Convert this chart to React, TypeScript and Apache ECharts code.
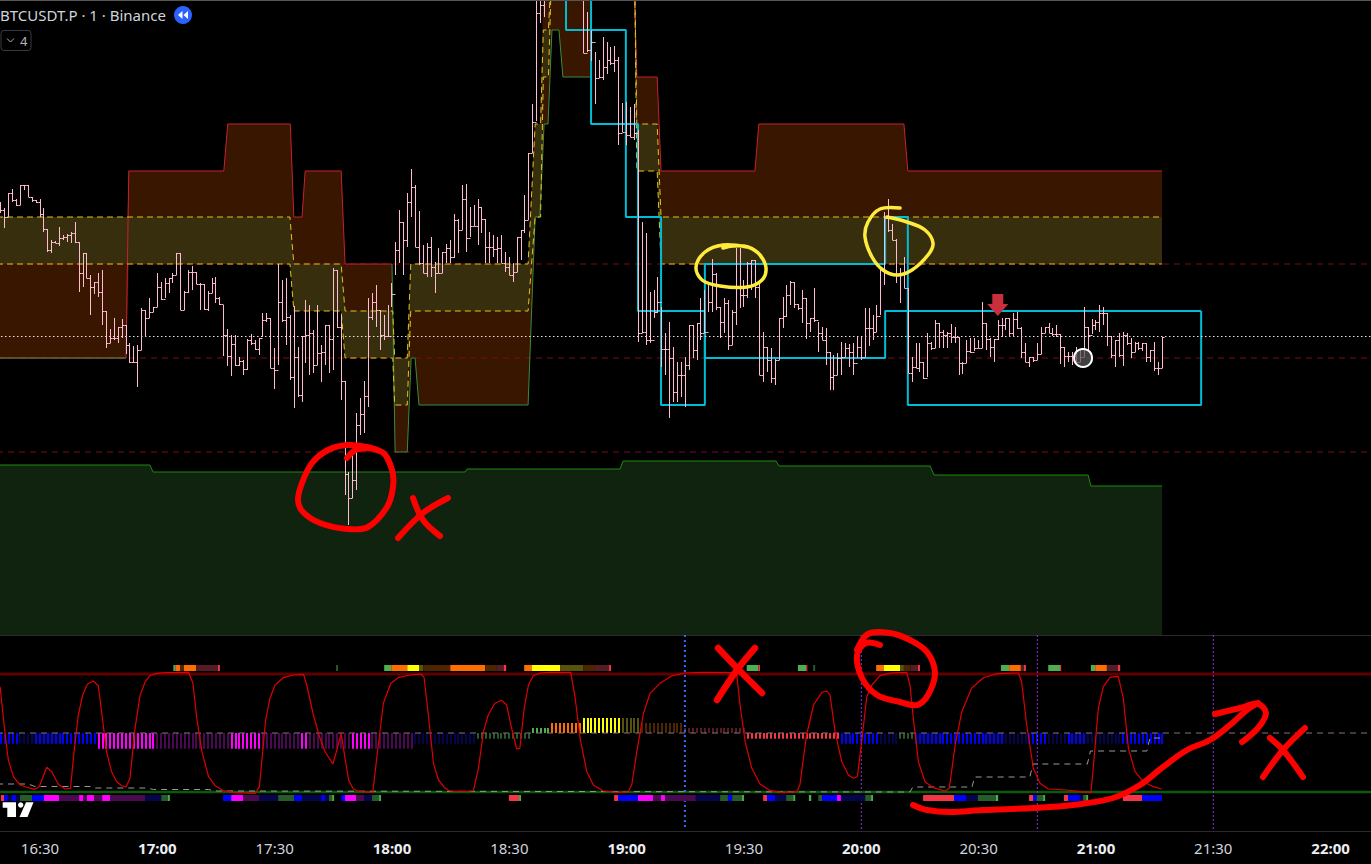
import React, { useEffect, useRef } from "react";
import * as echarts from "echarts";

// ---------- price pane: one bar per minute, starting at 16:20 (minute 980 of the day) ----------
const firstMinute = 980;
// [high, low, close]; the price unit is relative to the floor of the pane
const priceBars: [number, number, number][] = [
[433,422,425],[427,407,418],[442,418,442],[446,433,435],[436,429,430],[450,430,450],[450,445,450],[450,438,438],[438,433,435],[435,432,433],
[436,418,421],[427,403,406],[406,383,385],[395,382,393],[394,392,392],[408,389,397],[400,395,398],[401,393,400],[403,392,402],[413,392,393],
[393,343,362],[382,348,382],[382,357,357],[360,320,348],[353,341,353],[362,338,343],[365,310,324],[324,287,292],[306,292,297],[317,295,297],
[308,292,308],[316,297,310],[310,281,290],[292,272,273],[289,272,273],[290,248,285],[327,285,325],[325,298,317],[337,317,323],[328,323,328],
[362,328,348],[353,335,336],[357,337,352],[357,342,357],[362,352,360],[382,360,382],[382,325,325],[344,325,343],[365,342,363],[369,345,363],
[363,351,351],[352,325,351],[351,325,326],[344,324,342],[357,342,352],[358,332,337],[338,330,331],[330,279,300],[306,269,279],[300,259,291],
[300,269,270],[278,269,274],[275,260,266],[296,265,295],[301,290,292],[295,285,286],[297,280,297],[322,298,315],[322,313,317],[317,267,267],
[287,246,265],[371,270,333],[355,313,315],[357,290,318],[320,255,258],[329,227,278],[288,238,240],[299,233,299],[335,272,300],[330,260,302],
[305,262,270],[330,270,282],[290,253,283],[310,270,310],[310,262,296],[367,265,365],[365,307,308],[320,235,254],[254,140,161],[163,110,137],
[183,137,155],[222,145,210],[237,200,221],[254,202,239],[337,228,318],[342,315,333],[350,308,325],[325,285,300],[320,295,299],[330,298,299],
[352,328,341],[393,360,385],[425,372,413],[413,360,395],[442,388,433],[466,418,448],[450,388,388],[424,370,372],[390,362,362],[392,358,388],
[398,358,368],[373,342,362],[387,362,362],[383,362,383],[391,372,387],[395,372,378],[421,377,415],[416,382,405],[450,405,436],[451,383,397],
[428,398,409],[430,409,409],[436,390,428],[428,402,416],[416,372,388],[403,372,388],[400,378,386],[398,372,387],[400,372,372],[383,363,368],
[378,360,360],[372,353,363],[398,363,398],[405,375,405],[440,402,415],[482,415,482],[531,482,513],[645,514,622],[640,612,630],[645,618,637],
[665,640,655],[672,650,660],[680,655,668],[684,660,672],[686,665,678],[690,668,675],[684,660,670],[680,650,660],[672,640,645],[640,582,582],
[623,583,585],[605,574,593],[583,531,557],[575,557,558],[598,555,568],[593,561,575],[588,570,572],[589,563,575],[578,490,502],[532,503,503],
[533,490,500],[528,498,498],[531,495,502],[505,293,302],[413,302,303],[402,290,295],[343,292,295],[345,317,323],[358,322,333],[328,268,286],
[302,260,286],[313,217,277],[288,233,243],[273,233,260],[273,238,260],[278,228,270],[310,265,310],[310,277,285],[312,275,312],[337,295,302],
[345,302,303],[352,323,333],[376,323,361],[362,325,328],[328,297,313],[337,302,332],[335,285,290],[325,290,323],[387,310,347],[387,327,340],
[355,328,340],[373,337,372],[375,345,375],[375,337,348],[352,260,260],[303,253,288],[288,263,275],[287,252,257],[276,250,275],[317,275,317],
[338,307,319],[350,318,340],[354,330,353],[353,327,331],[331,325,327],[345,312,337],[337,296,312],[317,303,317],[347,313,315],[313,283,302],
[308,295,295],[307,270,283],[283,245,258],[280,245,260],[282,260,277],[293,260,278],[292,278,287],[291,268,283],[292,260,272],[298,277,288],
[298,275,278],[327,278,307],[327,289,307],[320,295,303],[330,303,319],[367,320,365],[423,350,417],[436,403,405],[411,395,395],[396,352,360],
[367,332,362],[378,347,347],[347,262,262],[278,253,268],[292,267,267],[292,263,273],[273,256,257],[302,258,292],[293,285,287],[315,287,312],
[312,287,303],[305,287,300],[303,287,302],[311,292,298],[308,292,298],[298,260,272],[273,261,272],[295,272,284],[297,282,283],[297,284,287],
[295,287,287],[333,287,312],[312,285,296],[297,278,288],[296,273,296],[315,295,310],[317,298,310],[317,305,317],[317,298,302],[322,298,316],
[323,306,307],[308,277,283],[292,273,273],[278,268,278],[278,273,275],[292,275,281],[308,281,302],[308,302,308],[312,302,302],[307,299,301],
[310,298,301],[301,271,288],[288,268,279],[283,273,279],[283,270,279],[288,272,273],[285,273,278],[328,278,308],[308,285,300],[316,301,310],
[315,305,313],[330,303,322],[328,310,322],[322,289,299],[299,277,280],[295,268,295],[302,278,280],[303,269,300],[302,290,292],[297,277,283],
[293,283,292],[293,285,287],[292,284,292],[292,273,278],[285,273,285],[293,264,267],[273,260,267],[298,267,298],
];

// bands: [minute, upper, lower]
const brownBandA: [number, number, number][] = [
[979,371,277],[1012,371,277],[1012.7,464,371],[1037,464,371],[1038,511,371],[1054,511,371],[1054.9,418,324],[1057,418,324],[1057.8,464,324],
[1067,464,324],[1068,371,277],[1080,371,277],[1080.1,277,277],[1080.8,277,183],[1083.9,277,183],[1084.9,371,277],[1085.9,371,277],[1086.9,371,230],
[1114.8,371,230],[1116.6,511,418],[1117.8,511,418],[1118.9,675,511],[1119.9,675,511],[1120.9,675,605],[1122.7,675,605],[1123.7,675,558],[1131,675,558],[1131.1,675,675],
];
const brownBandB: [number, number, number][] = [
[1142,675,675],[1142.6,558,511],[1147.8,558,511],[1148.8,464,371],[1172.8,464,371],[1173.8,511,371],[1210.9,511,371],[1211.9,464,371],[1276.9,464,371],
];
const yellowBand: [number, number, number][] = [
[979,418,371],[1053.9,418,371],[1054.9,371,324],[1067,371,324],[1068,324,277],[1080.2,324,277],[1080.7,277,230],[1083.9,277,230],[1084.8,371,324],
[1114.8,371,324],[1116.6,511,418],[1118,511,418],[1118.7,605,558],[1120,605,558],[1120.9,675,675],[1142,675,675],[1142.6,511,464],[1147.8,511,464],[1148.8,418,371],[1276.9,418,371],
];
const redEdgeA = [[979,277],[1012,277],[1012.7,464],[1037,464],[1038,511],[1054,511],[1054.9,418],[1057,418],[1057.8,464],[1067,464],[1068,371],[1080,371]];
const redEdgeB = [[1131,640],[1131,605]];
const redEdgeC = [[1142,640],[1142.6,558],[1147.8,558],[1148.8,464],[1172.8,464],[1173.8,511],[1210.9,511],[1211.9,464],[1276.9,464]];
const greenEdgeA = [[979,277],[1012,277]];
const greenEdgeB = [[1080,371],[1080.8,183],[1083.9,183],[1084.9,277],[1085.9,277],[1086.9,230],[1114.8,230],[1116.6,418],[1117.8,418],[1118.9,511],[1119.9,511],[1120.9,605],[1122.7,605],[1123.7,558],[1130.6,558]];
const supportFloor = [[979,170],[1018.1,170],[1018.9,163],[1098.7,163],[1099.2,166],[1138.3,166],[1139.1,174],[1178.2,174],[1179,169],[1217.6,169],[1218.6,160],[1258,160],[1258.7,149],[1276.9,149]];
const cyanPathA = [[1124.5,680],[1124.5,605],[1139.8,605],[1139.8,418],[1148.8,418],[1148.8,230],[1160,230],[1160,371],[1206.1,371],[1206.1,418],[1211.9,418],[1211.9,230],[1286.9,230],[1286.9,324]];
const cyanPathB = [[1130.9,680],[1130.9,511],[1142.9,511],[1142.9,324],[1160,324],[1160,277],[1206.1,277],[1206.1,324],[1286.9,324]];
const dashedLevels = [371, 277, 183];
const lastPriceLevel = 298.5;
const alertMarks = [[1234.9, 330]];
const replayMarks = [[1256.7, 277]];

// ---------- oscillator pane ----------
const oscUpper = 118;
const oscLower = 0;
const oscMiddle = 59;
const oscCurve = [
[979.8,105.3],[980.2,90.3],[981.1,57],[981.9,32],[983.2,15.3],[984.9,7],[987,4.3],[988.7,2.7],[989.8,5.3],[991.7,24.7],[993,20.3],[994.7,7.7],[996.4,3],[997.8,3.7],
[998.7,40.3],[999.8,77],[1000.9,97],[1002.1,107.7],[1003.6,111],[1004.9,106.3],[1005.8,78.7],[1007,40.3],[1008.3,20.3],[1009.6,10.3],[1010.9,6.3],[1012,5],[1013,13.7],
[1014.3,63.7],[1015.6,97],[1016.9,110.3],[1018.1,116.3],[1019.8,118.7],[1022.4,119.3],[1028,119.7],[1029.1,108.7],[1030.1,73.7],[1031.4,40.3],[1033.1,15.3],[1034.8,6.3],
[1036.9,1.3],[1039.4,-0.3],[1045,-1.3],[1046.1,5.3],[1047.7,72],[1048.8,93.7],[1050.1,107],[1052.2,114.3],[1054.8,117],[1057.4,117.7],[1058.2,107],[1059.9,77],[1061.6,53.7],
[1062.9,40.3],[1064.9,28],[1065.9,42],[1067,58.7],[1068,33.7],[1068.9,12],[1070.1,3],[1071.8,0.3],[1075.1,-0.3],[1076.1,33.7],[1077.8,88.7],[1079.7,108.7],[1081.6,114.3],
[1084.6,117],[1087.4,118],[1088.2,114.7],[1089.3,77],[1090.6,28.7],[1091.9,12],[1093.6,3.7],[1094.8,1],[1097.4,0.3],[1100.8,1],[1102.1,23.7],[1103.4,60.3],[1104.6,77],
[1106.3,88.7],[1108,91.7],[1109.3,87],[1110.6,63.7],[1111.9,43],[1112.7,43.7],[1113.8,83.7],[1114.9,107],[1116.1,116.3],[1117.9,119],[1120.4,119.7],[1125.7,119.7],[1126.8,95.3],
[1128.1,53.7],[1129.8,20.3],[1131.5,7],[1134,1],[1137.5,-0.3],[1140.4,0.3],[1141.3,7],[1142.6,40.3],[1144.3,78.7],[1146,98.7],[1148.5,108.7],[1151.5,116],[1154.5,119],[1159.6,119.7],
[1168.1,119.3],[1169,87],[1170.3,50.3],[1172,23.7],[1174.1,8],[1176.7,1.3],[1180.1,-0.7],[1183.5,0.3],[1184.3,7],[1186,57],[1187.8,87],[1189.9,99.7],[1191.2,101],[1192,97],
[1193.3,60.3],[1195,30.3],[1196.7,17],[1198,13.7],[1199,15.3],[1200.1,50.3],[1201.4,95.3],[1202.7,107],[1204.8,116.3],[1207.4,119],[1211.6,119.7],[1212.45,107],[1213.3,73.7],
[1214.6,30.3],[1216.3,10.3],[1218.4,4.3],[1221.4,1],[1222.5,3.7],[1224,47],[1225.7,80.3],[1228.2,103.7],[1231.2,114.3],[1234.6,118.3],[1240.2,119],[1241,110.3],[1242.3,67],
[1244,23.7],[1245.7,8.7],[1247.8,3],[1252.5,2],[1255.9,0.3],[1258.7,-0.7],[1259.3,23.7],[1260.6,83.7],[1261.9,105.3],[1263.6,114.7],[1265.7,115.7],[1267,93.7],[1268.3,43.7],
[1270,20.3],[1272.1,10.3],[1274.7,5.3],[1276.8,3],
];
const stepTrail = [
[979,8],[987,8],[988.7,5.5],[1002.8,5.5],[1004,4],[1017.4,4],[1019,2.5],[1033,2.5],[1035.3,1],[1210,0],[1212.4,0],[1213.2,5],[1228.3,5],[1229,15],[1243.1,15],[1243.9,28],[1257.8,28],[1258.6,41],[1273,41],[1273.8,54],[1276.9,54],
];

const BLUE = "#0000ff", NAVY = "#05054d", MAGENTA = "#ff00ff", PURPLE = "#4a0a4f", FOREST = "#255c2a", GREEN = "#4caf50";
const ORANGE = "#ff6d00", YELLOW = "#ffff00", OLIVE = "#55540a", BROWN = "#4d2500", MAROON = "#561c24", PINK = "#f23645";

// histogram: [first minute, last minute, height around the middle, colour]
const histRuns: [number, number, number, string][] = [
[980,984,-10.7,BLUE],[985,988,-10.7,NAVY],[989,1004,-10.7,BLUE],[1005,1019,-15.7,MAGENTA],[1020,1038,-15.7,PURPLE],[1039,1046,-15.7,MAGENTA],[1047,1056,-15.7,PURPLE],
[1057,1058,-15.7,MAGENTA],[1059,1069,-15.7,PURPLE],[1070,1074,-15.7,MAGENTA],[1075,1085,-15.7,PURPLE],[1086,1101,-10.7,NAVY],[1102,1115,-5.7,FOREST],[1116,1120,5,GREEN],
[1121,1128,10,ORANGE],[1129,1138,15,YELLOW],[1139,1143,15,OLIVE],[1144,1154,10,BROWN],[1155,1170,5,MAROON],[1171,1194,-5.7,PINK],[1195,1204,-10.7,BLUE],[1205,1209,-10.7,NAVY],
[1210,1213,-5.7,FOREST],[1214,1236,-10.7,BLUE],[1237,1242,-10.7,NAVY],[1243,1247,-10.7,BLUE],[1248,1252,-10.7,NAVY],[1253,1257,-10.7,BLUE],[1258,1266,-10.7,NAVY],[1267,1277,-10.7,BLUE],
];
// status strips: [from minute, to minute, colour]
const upperStrip: [number, number, string][] = [
[1024.1,1024.7,GREEN],[1024.7,1025.8,ORANGE],[1025.8,1026.8,BROWN],[1026.8,1029.9,ORANGE],[1029.9,1035.5,MAROON],[1035.5,1036,PINK],[1065.7,1066.2,FOREST],
[1078,1079.8,GREEN],[1079.8,1083.9,ORANGE],[1083.9,1086.9,YELLOW],[1086.9,1088,OLIVE],[1088,1094.9,BROWN],[1094.9,1103.8,ORANGE],[1103.8,1106.8,BROWN],[1106.8,1108.6,MAROON],[1108.6,1109.2,PINK],
[1113.8,1115.8,ORANGE],[1115.8,1123,YELLOW],[1123,1128.9,OLIVE],[1128.9,1131.9,BROWN],[1131.9,1135.5,MAROON],[1135.5,1136,PINK],[1170.7,1173.7,GREEN],[1173.7,1174.1,PINK],
[1183.8,1185.9,GREEN],[1185.9,1186.2,PINK],[1187.7,1188.2,FOREST],[1203.8,1205.8,ORANGE],[1205.8,1209.9,YELLOW],[1209.9,1210.9,OLIVE],[1210.9,1212.6,BROWN],[1212.6,1214.5,MAROON],[1214.5,1215,PINK],
[1235.7,1237.8,GREEN],[1237.8,1240.8,ORANGE],[1240.8,1241.6,MAROON],[1241.6,1242.1,PINK],[1247.8,1250.8,GREEN],[1250.8,1251.1,PINK],[1258.7,1259.8,GREEN],[1259.8,1262.8,ORANGE],[1262.8,1265.6,MAROON],[1265.6,1266.2,PINK],
];
const lowerStrip: [number, number, string][] = [
[980,980.8,PINK],[980.8,981.8,BLUE],[981.8,982.8,NAVY],[982.8,983.9,BLUE],[983.9,984.9,NAVY],[984.9,988,FOREST],[988,991,BLUE],[991,994.9,MAGENTA],[994.9,1000,PURPLE],[1000,1001,MAGENTA],
[1001,1002,PURPLE],[1002,1003.8,MAGENTA],[1003.8,1005.9,PURPLE],[1005.9,1007.9,MAGENTA],[1007.9,1016.9,PURPLE],[1016.9,1021,NAVY],[1021,1022.7,FOREST],[1022.7,1023.2,GREEN],
[1036.8,1038.9,BLUE],[1038.9,1041.9,MAGENTA],[1041.9,1046,PURPLE],[1046,1050.9,NAVY],[1050.9,1055,FOREST],[1055,1057,BLUE],[1057,1061.9,NAVY],[1061.9,1062.9,BLUE],[1062.9,1063.9,NAVY],[1063.9,1064.7,FOREST],[1064.7,1065.2,GREEN],
[1067,1068,BLUE],[1068,1070.8,MAGENTA],[1070.8,1072.9,PURPLE],[1072.9,1074.9,NAVY],[1074.9,1076.7,FOREST],[1076.7,1077.2,GREEN],[1109.9,1112.5,PINK],[1112.5,1113,GREEN],
[1136.8,1137.8,PINK],[1137.8,1142.9,BLUE],[1142.9,1146.8,MAGENTA],[1146.8,1148.8,PURPLE],[1148.8,1149.8,MAGENTA],[1149.8,1157.7,PURPLE],[1157.7,1163.9,NAVY],[1163.9,1165.9,FOREST],[1165.9,1167,BLUE],[1167,1169.5,FOREST],[1169.5,1170,GREEN],
[1174.9,1175.9,PINK],[1175.9,1178,BLUE],[1178,1180.8,NAVY],[1180.8,1182.6,FOREST],[1182.6,1183.1,GREEN],[1186.6,1187.2,GREEN],[1189,1190,FOREST],[1190,1193.8,BLUE],[1193.8,1194.8,MAGENTA],[1194.8,1201,NAVY],[1201,1202.5,FOREST],[1202.5,1203,GREEN],
[1215.8,1223.7,PINK],[1223.7,1226.8,BLUE],[1226.8,1229.8,NAVY],[1229.8,1234.4,FOREST],[1234.4,1235,GREEN],[1242.9,1243.9,PINK],[1243.9,1244.9,BLUE],[1244.9,1246.5,FOREST],[1246.5,1247,GREEN],
[1251.8,1252.9,PINK],[1252.9,1255.9,BLUE],[1255.9,1256.7,NAVY],[1256.7,1257.5,FOREST],[1257.5,1258,GREEN],[1266.9,1271.8,PINK],[1271.8,1276.9,BLUE],
];
const upperStripLane = [121, 127];
const lowerStripLane = [-9, -3];
const blueSession = [1154.9];
const purpleSessions = [1200, 1245, 1290];
const timeTicks = [990, 1020, 1050, 1080, 1110, 1140, 1170, 1200, 1230, 1260, 1290, 1320];

// ---------- freehand marks drawn on the screenshot ----------
const redLoopA = [[347,458],[358,449],[382,452],[392,470],[393,487],[387,507],[368,527],[347,529],[320,523],[303,512],[298,500],[302,483],[312,463],[328,450],[347,445],[367,447],[382,452]];
const redCrossA = [[[413,498],[423,520],[440,536]],[[448,498],[423,513],[398,538]]];
const yellowLoopA = [[747,247],[723,245],[705,252],[696,267],[702,280],[720,286],[747,287],[762,280],[766,268],[760,255],[748,247],[733,246],[723,248]];
const yellowLoopB = [[900,208],[880,209],[868,222],[865,237],[872,257],[883,270],[897,275],[912,270],[928,255],[933,243],[925,230],[907,222],[887,217]];
const redCrossB = [[[718,648],[737,668],[762,693]],[[755,648],[737,670],[717,700]]];
const redLoopB = [[880,645],[866,643],[857,655],[862,678],[877,695],[900,702],[917,705],[928,695],[935,673],[927,652],[910,640],[890,633],[868,634],[857,650]];
const redArrow = [[913,805],[927,810],[950,812],[983,810],[1033,808],[1073,805],[1113,798],[1140,785],[1163,767],[1187,750],[1210,740],[1230,725],[1247,710],[1258,703]];
const redArrowHead = [[1215,714],[1240,708],[1258,704],[1266,713],[1258,728],[1242,742]];
const redCrossC = [[[1270,738],[1283,750],[1303,777]],[[1305,728],[1283,750],[1263,777]]];

const AXIS_MIN = 979.77;
const AXIS_MAX = 1330.33;

function lineSeries(data: number[][], pane: number, color: string, width: number, z: number, type: any = "solid", extra: any = {}) {
  return {
    type: "line", xAxisIndex: pane, yAxisIndex: pane, data, symbol: "none", silent: true, z, clip: true,
    lineStyle: { color, width, type }, ...extra,
  };
}

function bandSeries(band: [number, number, number][], fill: string, z: number) {
  return {
    type: "custom", xAxisIndex: 0, yAxisIndex: 0, z, silent: true, clip: true,
    data: [[band[0][0], band[0][1]]], encode: { x: 0, y: 1 },
    renderItem: (_p: any, api: any) => ({
      type: "polygon",
      shape: {
        points: [
          ...band.map((p) => api.coord([p[0], p[1]])),
          ...[...band].reverse().map((p) => api.coord([p[0], p[2]])),
        ],
      },
      style: { fill },
    }),
  };
}

function stripSeries(runs: [number, number, string][], lane: number[]) {
  return {
    type: "custom", xAxisIndex: 1, yAxisIndex: 1, z: 5, silent: true,
    data: runs.map((r) => [r[0], lane[0], r[1], lane[1]]), encode: { x: [0, 2], y: [1, 3] },
    renderItem: (p: any, api: any) => {
      const r = runs[p.dataIndex];
      const a = api.coord([r[0], lane[1]]);
      const b = api.coord([r[1], lane[0]]);
      return { type: "rect", shape: { x: a[0], y: a[1], width: b[0] - a[0], height: b[1] - a[1] }, style: { fill: r[2] } };
    },
  };
}

function stroke(points: number[][], color: string, lineWidth: number) {
  return {
    type: "polyline", z: 200, silent: true,
    shape: { points, smooth: 0.35 },
    style: { stroke: color, lineWidth, lineCap: "round", lineJoin: "round", fill: null },
  };
}

export default function App() {
  const ref = useRef<HTMLDivElement>(null);
  useEffect(() => {
    document.body.style.margin = "0";
    document.body.style.background = "#000";
    const chart = echarts.init(ref.current!, undefined, { renderer: "svg" });

    const hist: { m: number; h: number; c: string }[] = [];
    histRuns.forEach(([from, to, h, c]) => {
      for (let m = from; m <= to; m++) hist.push({ m, h, c });
    });

    const ohlc = priceBars.map((b, i) => [
      firstMinute + i,
      i === 0 ? b[2] : priceBars[i - 1][2],
      b[2], b[1], b[0],
    ]);

    const sessionLine = (m: number, color: string, width: number, dash: number[]) =>
      lineSeries([[m, 157], [m, -37]], 1, color, width, 4, dash);

    chart.setOption({
      animation: false,
      backgroundColor: "#000000",
      tooltip: { show: false },
      grid: [
        { left: 0, top: 0, width: 1371, height: 635 },
        { left: 0, top: 635, width: 1371, height: 196 },
      ],
      xAxis: [
        {
          type: "value", gridIndex: 0, min: AXIS_MIN, max: AXIS_MAX, splitLine: { show: false },
          axisLabel: { show: false }, axisTick: { show: false },
          axisLine: { show: true, onZero: false, lineStyle: { color: "#2a2a2e", width: 1 } },
        },
        {
          type: "value", gridIndex: 1, min: AXIS_MIN, max: AXIS_MAX, splitLine: { show: false },
          axisTick: { show: false },
          axisLine: { show: true, onZero: false, lineStyle: { color: "#2a2a2e", width: 1 } },
          axisLabel: {
            customValues: timeTicks,
            margin: 9,
            formatter: (v: number) => {
              const hh = Math.floor(v / 60);
              const mm = v % 60;
              const s = `${hh}:${mm === 0 ? "00" : mm}`;
              return mm === 0 ? `{b|${s}}` : `{n|${s}}`;
            },
            rich: {
              b: { fontFamily: "Noto Sans", fontSize: 15, fontWeight: "bold", color: "#eceef3" },
              n: { fontFamily: "Noto Sans", fontSize: 15, color: "#d1d4dc" },
            },
          },
        },
      ],
      yAxis: [
        { type: "value", gridIndex: 0, min: 0, max: 635, show: false, splitLine: { show: false } },
        { type: "value", gridIndex: 1, min: -39, max: 157, show: false, splitLine: { show: false } },
      ],
      graphic: [
        { type: "line", z: 150, silent: true, shape: { x1: 0, y1: 0.5, x2: 1371, y2: 0.5 }, style: { stroke: "#555555", lineWidth: 1 } },
        { type: "text", z: 150, silent: true, x: 0, y: 15, style: { text: "BTCUSDT.P · 1 · Binance", fill: "#d1d4dc", fontFamily: "Noto Sans", fontSize: 15, verticalAlign: "middle" } },
        { type: "circle", z: 150, silent: true, shape: { cx: 183, cy: 15, r: 9 }, style: { fill: "#2962ff" } },
        { type: "polygon", z: 151, silent: true, shape: { points: [[182.5, 11], [178, 15], [182.5, 19]] }, style: { fill: "#ffffff" } },
        { type: "polygon", z: 151, silent: true, shape: { points: [[188, 11], [183.5, 15], [188, 19]] }, style: { fill: "#ffffff" } },
        { type: "rect", z: 150, silent: true, shape: { x: 1, y: 30.5, width: 30, height: 20, r: 3 }, style: { fill: "#000", stroke: "#363a45", lineWidth: 1 } },
        { type: "polyline", z: 151, silent: true, shape: { points: [[7, 38.5], [10.5, 42], [14, 38.5]] }, style: { stroke: "#b2b5be", lineWidth: 1, fill: null } },
        { type: "text", z: 151, silent: true, x: 20, y: 41, style: { text: "4", fill: "#b2b5be", fontFamily: "Noto Sans", fontSize: 13, verticalAlign: "middle" } },
        { type: "polygon", z: 150, silent: true, shape: { points: [[2.7, 802.3], [16, 802.3], [16, 817], [7.3, 817], [7.3, 807.7], [2.7, 807.7]] }, style: { fill: "#ffffff" } },
        { type: "circle", z: 150, silent: true, shape: { cx: 20.7, cy: 805, r: 2.7 }, style: { fill: "#ffffff" } },
        { type: "polygon", z: 150, silent: true, shape: { points: [[26, 802.3], [33.5, 802.3], [27.5, 817], [19.5, 817]] }, style: { fill: "#ffffff" } },
        stroke(redLoopA, "#ff0000", 6),
        ...redCrossA.map((p) => stroke(p, "#ff0000", 6)),
        stroke(yellowLoopA, "#ffeb3b", 3.5),
        stroke(yellowLoopB, "#ffeb3b", 3.5),
        ...redCrossB.map((p) => stroke(p, "#ff0000", 6.5)),
        stroke(redLoopB, "#ff0000", 6),
        stroke(redArrow, "#ff0000", 6),
        stroke(redArrowHead, "#ff0000", 6),
        ...redCrossC.map((p) => stroke(p, "#ff0000", 6)),
      ],
      series: [
        lineSeries(supportFloor, 0, "#1e8a0e", 1, 1, "solid", { areaStyle: { color: "#0f230e", opacity: 1, origin: "start" } }),
        bandSeries(brownBandA, "#381600", 1),
        bandSeries(brownBandB, "#381600", 1),
        bandSeries(yellowBand, "#372e0e", 2),
        ...dashedLevels.map((v) => lineSeries([[979, v], [1331, v]], 0, "#7a0f0f", 1, 3, [6, 5])),
        lineSeries(redEdgeA, 0, "#c8202f", 1, 3),
        lineSeries(redEdgeB, 0, "#c8202f", 1, 3),
        lineSeries(redEdgeC, 0, "#c8202f", 1, 3),
        lineSeries(greenEdgeA, 0, "#3d8b3d", 1, 3),
        lineSeries(greenEdgeB, 0, "#3d8b3d", 1, 3),
        lineSeries(yellowBand.map((p) => [p[0], p[1]]), 0, "#e2c41f", 1, 4, [6, 4]),
        lineSeries(yellowBand.map((p) => [p[0], p[2]]), 0, "#e2c41f", 1, 4, [6, 4]),
        lineSeries(cyanPathA, 0, "#00bcd4", 2, 5),
        lineSeries(cyanPathB, 0, "#00bcd4", 2, 5),
        lineSeries([[979, lastPriceLevel], [1331, lastPriceLevel]], 0, "#f0dfe4", 1, 6, [1.5, 2.5]),
        {
          type: "custom", xAxisIndex: 0, yAxisIndex: 0, z: 7, silent: true, clip: true,
          data: ohlc, encode: { x: 0, y: [1, 2, 3, 4] },
          renderItem: (_p: any, api: any) => {
            const m = api.value(0);
            const x = Math.floor(api.coord([m, 0])[0]) + 0.5;
            const yO = Math.round(api.coord([m, api.value(1)])[1]) + 0.5;
            const yC = Math.round(api.coord([m, api.value(2)])[1]) + 0.5;
            const yL = api.coord([m, api.value(3)])[1];
            const yH = api.coord([m, api.value(4)])[1];
            const style = { stroke: "#ffbcd0", lineWidth: 1, fill: null };
            return {
              type: "group",
              children: [
                { type: "line", shape: { x1: x, y1: yH, x2: x, y2: yL }, style },
                { type: "line", shape: { x1: x - 2, y1: yO, x2: x, y2: yO }, style },
                { type: "line", shape: { x1: x, y1: yC, x2: x + 2, y2: yC }, style },
              ],
            };
          },
        },
        {
          type: "scatter", xAxisIndex: 0, yAxisIndex: 0, z: 8, silent: true, data: alertMarks,
          symbol: "path://M5,0L16,0L16,10L21,10L10.5,22L0,10L5,10Z", symbolSize: [21, 22], symbolKeepAspect: false,
          itemStyle: { color: "#c9303e", opacity: 1 },
        },
        {
          type: "scatter", xAxisIndex: 0, yAxisIndex: 0, z: 8, silent: true, data: replayMarks, symbol: "circle", symbolSize: 18,
          itemStyle: { color: "rgba(85,85,85,0.75)", borderColor: "#ffffff", borderWidth: 2, opacity: 1 },
        },
        // oscillator pane
        lineSeries([[979, oscUpper], [1331, oscUpper]], 1, "#5c0000", 3, 2),
        lineSeries([[979, oscLower], [1331, oscLower]], 1, "#0b5a0b", 2.5, 2),
        lineSeries([[979, oscMiddle], [1331, oscMiddle]], 1, "#85707a", 1, 3, [6, 5]),
        {
          type: "custom", xAxisIndex: 1, yAxisIndex: 1, z: 3, silent: true,
          data: hist.map((d) => [d.m, d.h]), encode: { x: 0, y: 1 },
          renderItem: (p: any, api: any) => {
            const d = hist[p.dataIndex];
            const a = api.coord([d.m, oscMiddle]);
            const b = api.coord([d.m, oscMiddle + d.h]);
            return {
              type: "rect",
              shape: { x: Math.round(a[0]) - 1, y: Math.min(a[1], b[1]), width: 2, height: Math.abs(b[1] - a[1]) },
              style: { fill: d.c },
            };
          },
        },
        stripSeries(upperStrip, upperStripLane),
        stripSeries(lowerStrip, lowerStripLane),
        ...blueSession.map((m) => sessionLine(m, "#2f6bff", 2, [2, 3])),
        ...purpleSessions.map((m) => sessionLine(m, "#9b30e0", 1, [2, 2])),
        lineSeries(stepTrail, 1, "#9a9a9a", 1, 5, [6, 5]),
        lineSeries(oscCurve, 1, "#e00000", 1.2, 6),
      ],
    });
    return () => chart.dispose();
  }, []);
  return <div ref={ref} style={{ width: 1371, height: 864, display: "block" }} />;
}
